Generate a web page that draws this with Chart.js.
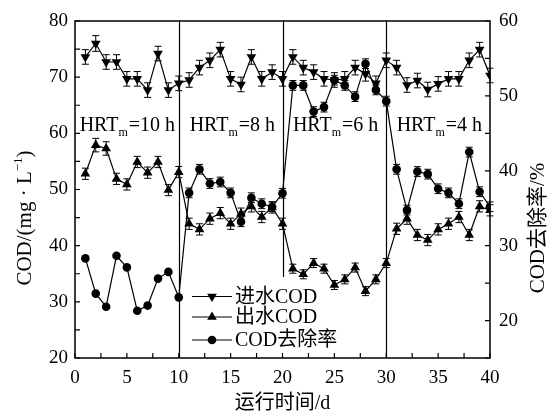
<!DOCTYPE html>
<html>
<head>
<meta charset="utf-8">
<script src="https://cdn.jsdelivr.net/npm/chart.js@4.4.1/dist/chart.umd.min.js"></script>
<style>
  html, body { margin: 0; padding: 0; background: #fff; }
</style>
</head>
<body>
<canvas id="chart" width="547" height="416"></canvas>
<script>
const days = [1, 2, 3, 4, 5, 6, 7, 8, 9, 10, 11, 12, 13, 14, 15, 16, 17, 18, 19, 20,
  21, 22, 23, 24, 25, 26, 27, 28, 29, 30, 31, 32, 33, 34, 35, 36, 37, 38, 39, 40];

// 进水COD, mg/L (left axis)
const influent = [73.6, 76.0, 72.7, 72.7, 69.7, 69.7, 67.7, 74.2, 67.7, 68.9,
  69.5, 71.7, 73.0, 74.9, 69.7, 68.7, 73.6, 69.7, 70.9, 69.7,
  73.6, 71.7, 70.9, 69.7, 69.5, 69.7, 71.7, 70.6, 68.9, 73.0,
  71.7, 68.6, 69.4, 67.8, 68.8, 69.7, 69.7, 73.0, 74.9, 70.3];
const influentErr = [1.3, 1.4, 1.3, 1.3, 1.3, 1.3, 1.3, 1.3, 1.3, 1.3,
  1.3, 1.3, 1.3, 1.3, 1.3, 1.3, 1.3, 1.3, 1.3, 1.3,
  1.3, 1.3, 1.3, 1.3, 1.3, 1.3, 1.3, 1.3, 1.3, 1.3,
  1.3, 1.3, 1.3, 1.3, 1.3, 1.3, 1.3, 1.3, 1.3, 1.3];

// 出水COD, mg/L (left axis)
const effluent = [52.8, 57.9, 57.3, 51.9, 50.9, 54.9, 53.0, 54.9, 49.9, 53.1,
  43.9, 42.9, 44.8, 45.8, 43.9, 45.7, 47.0, 45.1, 46.8, 43.9,
  35.9, 34.9, 36.9, 35.9, 33.0, 34.0, 36.1, 31.9, 34.0, 36.9,
  43.0, 44.8, 41.9, 41.0, 42.9, 43.9, 45.1, 41.9, 47.0, 46.3];
const effluentErr = [1.0, 1.2, 1.2, 1.0, 1.0, 1.0, 1.0, 1.0, 1.0, 1.0,
  1.0, 1.0, 1.0, 1.0, 1.0, 1.0, 1.0, 1.0, 1.0, 1.0,
  0.8, 0.8, 0.8, 0.8, 0.8, 0.8, 0.8, 0.8, 0.8, 0.8,
  1.0, 1.0, 1.0, 1.0, 1.0, 1.0, 1.0, 1.0, 1.0, 1.0];

// COD去除率, % (right axis)
const removal = [28.3, 23.6, 21.85, 28.65, 27.1, 21.3, 22.0, 25.6, 26.5, 23.1,
  37.05, 40.2, 38.3, 38.5, 37.05, 33.2, 36.4, 35.6, 35.2, 37.0,
  51.4, 51.4, 47.9, 48.5, 52.1, 51.4, 49.9, 54.3, 50.8, 49.3,
  40.2, 34.75, 39.9, 39.55, 37.6, 37.05, 35.6, 42.5, 37.2, 35.2];
const removalErr = [0, 0, 0, 0, 0, 0, 0, 0, 0, 0,
  0.65, 0.65, 0.65, 0.65, 0.65, 0.65, 0.65, 0.65, 0.65, 0.65,
  0.65, 0.65, 0.65, 0.65, 0.65, 0.65, 0.65, 0.65, 0.65, 0.65,
  0.65, 0.65, 0.65, 0.65, 0.65, 0.65, 0.65, 0.65, 0.65, 0.65];

// stage dividers: day and the lowest left-axis value the line reaches
const dividerDays = [10, 20, 30];
const dividerBottoms = [20, 34.4, 20];

const stageLabels = ['10 h', '8 h', '6 h', '4 h'];
const stageStartDays = [0.45, 11.05, 21.0, 31.0];
const stageLabelY = 60.4;

const legendLabels = ['进水COD', '出水COD', 'COD去除率'];

const serif = '"Liberation Serif", "Noto Sans CJK SC", serif';
const black = '#000';

function points(ys) {
  return days.map((d, i) => ({ x: d, y: ys[i] }));
}

function drawMarker(ctx, style, x, y) {
  ctx.save();
  ctx.fillStyle = black;
  ctx.beginPath();
  if (style === 'circle') {
    ctx.arc(x, y, 4.3, 0, Math.PI * 2);
  } else {
    const r = 5.6;
    const dir = style === 'down' ? -1 : 1;
    ctx.moveTo(x, y - dir * r);
    ctx.lineTo(x + r * 0.866, y + dir * r * 0.5);
    ctx.lineTo(x - r * 0.866, y + dir * r * 0.5);
    ctx.closePath();
  }
  ctx.fill();
  ctx.restore();
}

const decorPlugin = {
  id: 'decor',
  beforeDatasetsDraw(chart) {
    const { ctx, scales } = chart;
    const xs = scales.x;
    ctx.save();
    ctx.strokeStyle = black;
    ctx.lineWidth = 1.2;
    // stage dividers
    dividerDays.forEach((d, i) => {
      const px = Math.round(xs.getPixelForValue(d)) + 0.5;
      ctx.beginPath();
      ctx.moveTo(px, scales.y.getPixelForValue(80));
      ctx.lineTo(px, scales.y.getPixelForValue(dividerBottoms[i]));
      ctx.stroke();
    });
    // error bars
    const sets = [
      [influent, influentErr, scales.y],
      [effluent, effluentErr, scales.y],
      [removal, removalErr, scales.y2]
    ];
    ctx.lineWidth = 1;
    sets.forEach(([vals, errs, ys]) => {
      vals.forEach((v, i) => {
        if (!errs[i]) return;
        const px = xs.getPixelForValue(days[i]);
        const top = ys.getPixelForValue(v + errs[i]);
        const bot = ys.getPixelForValue(v - errs[i]);
        ctx.beginPath();
        ctx.moveTo(px, top); ctx.lineTo(px, bot);
        ctx.moveTo(px - 3.5, top); ctx.lineTo(px + 3.5, top);
        ctx.moveTo(px - 3.5, bot); ctx.lineTo(px + 3.5, bot);
        ctx.stroke();
      });
    });
    ctx.restore();
  },
  afterDraw(chart) {
    const { ctx, chartArea: a, scales } = chart;
    ctx.save();
    ctx.strokeStyle = black;
    ctx.fillStyle = black;
    // frame
    ctx.lineWidth = 1.5;
    ctx.strokeRect(a.left, a.top, a.right - a.left, a.bottom - a.top);
    // inward tick marks
    ctx.lineWidth = 1.2;
    const tl = 5;
    ctx.beginPath();
    scales.x.ticks.forEach(t => {
      const px = scales.x.getPixelForValue(t.value);
      ctx.moveTo(px, a.bottom); ctx.lineTo(px, a.bottom - tl);
    });
    scales.y.ticks.forEach(t => {
      const py = scales.y.getPixelForValue(t.value);
      ctx.moveTo(a.left, py); ctx.lineTo(a.left + tl, py);
    });
    scales.y2.ticks.forEach(t => {
      const py = scales.y2.getPixelForValue(t.value);
      ctx.moveTo(a.right, py); ctx.lineTo(a.right - tl, py);
    });
    ctx.stroke();

    // stage labels HRT_m=.. h
    ctx.textBaseline = 'alphabetic';
    ctx.textAlign = 'left';
    stageLabels.forEach((lab, i) => {
      let x = scales.x.getPixelForValue(stageStartDays[i]);
      const y = scales.y.getPixelForValue(stageLabelY);
      ctx.font = '20px ' + serif;
      ctx.fillText('HRT', x, y);
      x += ctx.measureText('HRT').width;
      ctx.font = '12px ' + serif;
      ctx.fillText('m', x, y + 5);
      x += ctx.measureText('m').width + 1;
      ctx.font = '20px ' + serif;
      ctx.fillText('=' + lab, x, y);
    });

    // legend
    const lx0 = 192, lx1 = 232, rows = [296.5, 317, 340];
    const styles = ['down', 'up', 'circle'];
    ctx.lineWidth = 1.2;
    rows.forEach((ry, i) => {
      ctx.beginPath();
      ctx.moveTo(lx0, ry); ctx.lineTo(lx1, ry);
      ctx.stroke();
      drawMarker(ctx, styles[i], (lx0 + lx1) / 2, ry);
      ctx.font = '20px ' + serif;
      ctx.textBaseline = 'middle';
      ctx.fillText(legendLabels[i], lx1 + 3, ry + 1);
    });

    // axis titles
    ctx.font = '20px ' + serif;
    ctx.textAlign = 'center';
    ctx.textBaseline = 'middle';
    ctx.fillText('运行时间/d', (a.left + a.right) / 2, 404);

    ctx.save();
    ctx.translate(25, 218);
    ctx.rotate(-Math.PI / 2);
    const main = 'COD/(mg · L';
    ctx.font = '21px ' + serif;
    const w1 = ctx.measureText(main).width;
    ctx.font = '13px ' + serif;
    const w2 = ctx.measureText('−1').width;
    ctx.font = '21px ' + serif;
    const w3 = ctx.measureText(')').width;
    let sx = -(w1 + w2 + w3) / 2;
    ctx.textAlign = 'left';
    ctx.fillText(main, sx, 0);
    ctx.font = '13px ' + serif;
    ctx.fillText('−1', sx + w1, -6);
    ctx.font = '21px ' + serif;
    ctx.fillText(')', sx + w1 + w2, 0);
    ctx.restore();

    ctx.save();
    ctx.translate(538, 228);
    ctx.rotate(-Math.PI / 2);
    ctx.textAlign = 'center';
    ctx.font = '21px ' + serif;
    ctx.fillText('COD去除率/%', 0, 0);
    ctx.restore();

    ctx.restore();
  }
};

const lineStyle = {
  borderColor: black,
  backgroundColor: black,
  borderWidth: 1.2,
  pointBorderWidth: 0,
  tension: 0,
  fill: false
};

const tickFont = { family: serif, size: 19 };

new Chart(document.getElementById('chart'), {
  type: 'line',
  data: {
    datasets: [
      Object.assign({ label: legendLabels[0], data: points(influent), yAxisID: 'y',
        pointStyle: 'triangle', rotation: 180, pointRadius: 5.6 }, lineStyle),
      Object.assign({ label: legendLabels[1], data: points(effluent), yAxisID: 'y',
        pointStyle: 'triangle', pointRadius: 5.6 }, lineStyle),
      Object.assign({ label: legendLabels[2], data: points(removal), yAxisID: 'y2',
        pointStyle: 'circle', pointRadius: 4.3 }, lineStyle)
    ]
  },
  options: {
    responsive: false,
    animation: false,
    devicePixelRatio: 1,
    layout: { padding: { top: 21, left: 0, right: 0, bottom: 0 } },
    plugins: { legend: { display: false }, tooltip: { enabled: false } },
    scales: {
      x: {
        type: 'linear', min: 0, max: 40,
        grid: { display: false, drawTicks: false },
        border: { display: false },
        ticks: {
          stepSize: 2.5, autoSkip: false, maxRotation: 0, padding: 9,
          color: black, font: tickFont,
          callback: v => (v % 5 === 0 ? v : '')
        },
        afterFit: s => { s.height = 58; }
      },
      y: {
        type: 'linear', position: 'left', min: 20, max: 80,
        grid: { display: false, drawTicks: false },
        border: { display: false },
        ticks: {
          stepSize: 5, padding: 7, color: black, font: tickFont,
          callback: v => (v % 10 === 0 ? v : '')
        },
        afterFit: s => { s.width = 75; }
      },
      y2: {
        type: 'linear', position: 'right', min: 15, max: 60,
        grid: { display: false, drawTicks: false },
        border: { display: false },
        ticks: {
          stepSize: 5, padding: 9, color: black, font: tickFont,
          callback: v => (v % 10 === 0 ? v : '')
        },
        afterFit: s => { s.width = 57; }
      }
    }
  },
  plugins: [decorPlugin]
});
</script>
</body>
</html>
